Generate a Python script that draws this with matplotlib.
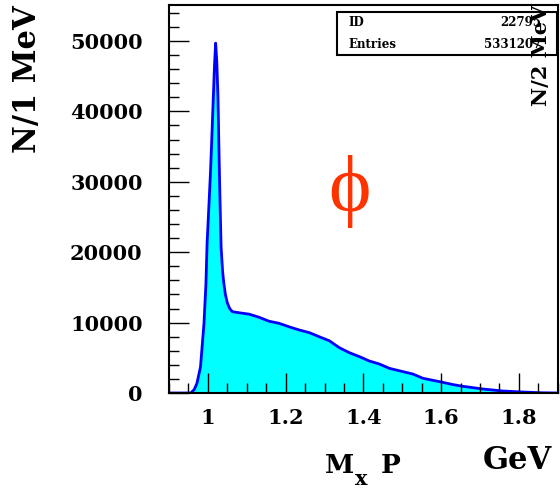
import numpy as np
import matplotlib.pyplot as plt
from matplotlib.ticker import MultipleLocator
from matplotlib.patches import Rectangle

# Mx(P) spectrum (GeV, counts per 1 MeV)
mass = [0.900, 0.950, 0.956, 0.965, 0.972, 0.981, 0.990, 0.995, 0.998, 1.003,
        1.007, 1.011, 1.014, 1.017, 1.020, 1.023, 1.026, 1.028, 1.030, 1.034,
        1.038, 1.041, 1.045, 1.050, 1.056, 1.063, 1.080, 1.106, 1.132,
        1.157, 1.183, 1.209, 1.235, 1.261, 1.286, 1.312, 1.338, 1.364, 1.390,
        1.415, 1.441, 1.467, 1.502, 1.527, 1.553, 1.597, 1.630, 1.656, 1.707,
        1.759, 1.810, 1.860, 1.900]
counts = [0, 0, 0, 500, 1400, 3700, 9900, 15500, 21300, 27000,
          31700, 37500, 42000, 46500, 49700, 47000, 42000, 36000, 30300, 20700,
          17200, 15600, 14000, 12800, 12000, 11550, 11400, 11200, 10750,
          10200, 9900, 9400, 8950, 8570, 8000, 7430, 6440, 5720, 5160,
          4550, 4120, 3500, 3030, 2700, 2090, 1600, 1200, 950, 570,
          280, 140, 30, 0]

hist_id = "22795"
entries = "5331207"

serif = ['DejaVu Serif']
plt.rcParams['font.family'] = serif
plt.rcParams['font.weight'] = 'bold'

W, H = 560, 490
fig = plt.figure(figsize=(5.6, 4.9), dpi=100)
ax = fig.add_axes([169/W, 1 - 393/H, (557.75 - 169)/W, (393 - 5)/H])

ax.fill_between(mass, counts, 0, color='#00ffff', lw=0, zorder=1)
ax.plot(mass, counts, color='#0000ff', lw=2, zorder=2)

ax.set_xlim(0.9, 1.9)
ax.set_ylim(0, 55114)
ax.xaxis.set_minor_locator(MultipleLocator(0.05))
ax.yaxis.set_major_locator(MultipleLocator(10000))
ax.yaxis.set_minor_locator(MultipleLocator(2000))
ax.set_xticks([1.0, 1.2, 1.4, 1.6, 1.8])
ax.set_xticklabels(['1', '1.2', '1.4', '1.6', '1.8'])
ax.tick_params(which='both', direction='in', width=1, color='black')
ax.tick_params(which='major', length=14.4)
ax.tick_params(which='minor', length=7.2)
ax.tick_params(axis='y', which='major', pad=19, labelsize=15)
ax.tick_params(axis='x', which='major', pad=11, labelsize=15)
ax.set_axisbelow(False)
for s in ax.spines.values():
    s.set_linewidth(1.5)
    s.set_zorder(5)

# axis titles
fig.text(28/W, 1 - 79/H, 'N/1 MeV', rotation=90, ha='center', va='center',
         fontsize=22, fontweight='bold')
fig.text(531/W, 1 - 5/H, 'N/2 MeV', rotation=90, ha='left', va='top',
         fontsize=15, fontweight='bold', zorder=10)
fig.text(325/W, 1 - 473/H, 'M', ha='left', va='baseline',
         fontsize=19, fontweight='bold')
fig.text(355/W, 1 - 485/H, 'x', ha='left', va='baseline',
         fontsize=15, fontweight='bold')
fig.text(381/W, 1 - 473/H, 'P', ha='left', va='baseline',
         fontsize=19, fontweight='bold')
fig.text(517/W, 1 - 469/H, 'GeV', ha='center', va='baseline',
         fontsize=22, fontweight='bold')

# stats box
fig.patches.append(Rectangle((337/W, 1 - 55/H), 220/W, 43/H,
                             transform=fig.transFigure, fill=True, fc='white',
                             ec='black', lw=1.5, zorder=6))
fig.text(348/W, 1 - 23/H, 'ID', fontsize=8.5, fontweight='bold',
         va='center', zorder=7)
fig.text(348/W, 1 - 45/H, 'Entries', fontsize=8.5, fontweight='bold',
         va='center', zorder=7)
fig.text(541/W, 1 - 23/H, hist_id, fontsize=8.5, fontweight='bold',
         va='center', ha='right', zorder=7)
fig.text(541/W, 1 - 45/H, entries, fontsize=8.5, fontweight='bold',
         va='center', ha='right', zorder=7)

# phi label
fig.text(349/W, 1 - 191/H, '\u03d5', color='#ff3300', fontsize=58,
         fontweight='normal', ha='center', va='center',
         family=['Liberation Serif', 'DejaVu Serif'])

fig.savefig('out.png', dpi=100)
